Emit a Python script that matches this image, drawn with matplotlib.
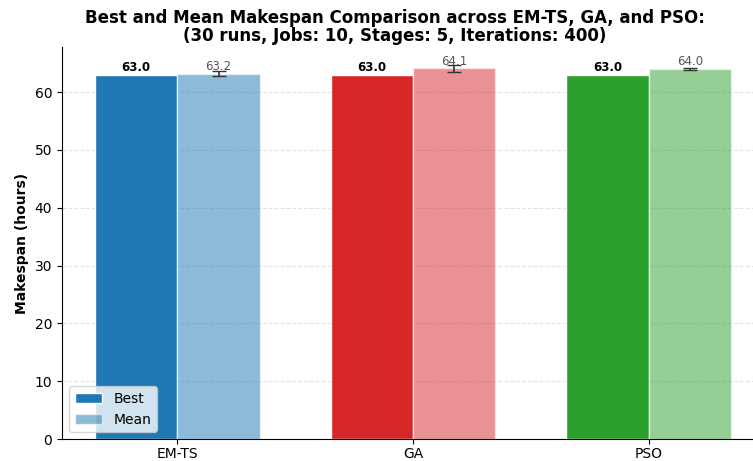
import matplotlib
matplotlib.use("Agg")
import matplotlib.pyplot as plt
import numpy as np

algorithms = ["EM-TS", "GA", "PSO"]
best_makespan = [63.0, 63.0, 63.0]
mean_makespan = [63.2, 64.1, 64.0]
std_makespan = [0.4, 0.6, 0.25]
best_colors = ["#1f77b4", "#d62728", "#2ca02c"]

fig = plt.figure(figsize=(7.53, 4.61), dpi=100)
ax = fig.add_axes([62 / 753, 22 / 461, 702 / 753, 392 / 461])

x = np.arange(len(algorithms))
width = 0.35

for i in range(len(algorithms)):
    ax.bar(x[i] - width / 2, best_makespan[i], width, color=best_colors[i],
           edgecolor="white", linewidth=1, label="Best" if i == 0 else None, zorder=2)
    ax.bar(x[i] + width / 2, mean_makespan[i], width, color=best_colors[i], alpha=0.5,
           edgecolor="white", linewidth=1, label="Mean" if i == 0 else None, zorder=2)
    ax.errorbar(x[i] + width / 2, mean_makespan[i], yerr=std_makespan[i], fmt="none",
                ecolor="#333333", capsize=5, elinewidth=1.2, zorder=3)
    ax.text(x[i] - width / 2, best_makespan[i] + 0.15, f"{best_makespan[i]:.1f}",
            ha="center", va="bottom", fontsize=8.5, fontweight="bold", color="black")
    ax.text(x[i] + width / 2, mean_makespan[i] + 0.15, f"{mean_makespan[i]:.1f}",
            ha="center", va="bottom", fontsize=8.5, color="#555555")

ax.set_xticks(x)
ax.set_xticklabels(algorithms, fontsize=10)
ax.tick_params(axis="x", pad=2)
ax.tick_params(axis="y", labelsize=10)
ax.set_xlim(-0.49, 2.49)
ax.set_ylim(0, 67.8)
ax.set_yticks(np.arange(0, 61, 10))
ax.set_ylabel("Makespan (hours)", fontsize=10, fontweight="bold")
ax.grid(axis="y", linestyle="--", alpha=0.35, zorder=0)
ax.set_axisbelow(True)
for side in ("top", "right"):
    ax.spines[side].set_visible(False)

ax.set_title("Best and Mean Makespan Comparison across EM-TS, GA, and PSO:\n"
             "(30 runs, Jobs: 10, Stages: 5, Iterations: 400)",
             fontsize=12, fontweight="bold", x=(395 - 62) / 702, linespacing=1.0, pad=4)

leg = ax.legend(loc="lower left", fontsize=10)

fig.savefig("out.png", dpi=100)
